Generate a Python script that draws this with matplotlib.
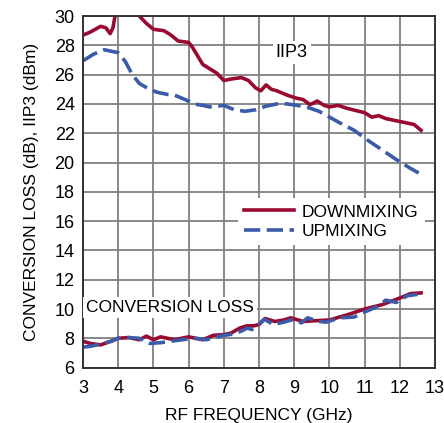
import matplotlib
matplotlib.use("Agg")
import matplotlib.pyplot as plt

# IIP3 curves (dBm)
iip3_down_f = [3.0, 3.2, 3.5, 3.65, 3.77, 3.85, 3.93, 4.0, 4.6, 4.8, 5.0, 5.3, 5.5, 5.7, 6.0, 6.1,
               6.4, 6.6, 6.8, 7.0, 7.2, 7.5, 7.7, 7.9, 8.05, 8.2, 8.35, 8.5, 8.8, 9.05, 9.25,
               9.45, 9.65, 9.85, 10.0, 10.25, 10.5, 10.75, 11.0, 11.2, 11.4, 11.6, 11.8, 12.0,
               12.2, 12.4, 12.6]
iip3_down = [28.7, 28.9, 29.3, 29.2, 28.8, 29.2, 30.3, 31.5, 30.0, 29.5, 29.1, 29.0, 28.7, 28.3, 28.2, 27.9,
             26.7, 26.4, 26.1, 25.6, 25.7, 25.8, 25.6, 25.1, 24.9, 25.3, 25.0, 24.9, 24.6, 24.4, 24.3,
             23.95, 24.2, 23.9, 23.8, 23.9, 23.7, 23.55, 23.4, 23.1, 23.2, 23.0, 22.9, 22.8,
             22.7, 22.6, 22.2]

iip3_up_f = [3.0, 3.3, 3.6, 3.8, 4.0, 4.2, 4.4, 4.6, 4.85, 5.1, 5.4, 5.6, 5.9, 6.15, 6.4, 6.6,
             6.8, 7.0, 7.3, 7.6, 7.9, 8.2, 8.5, 8.8, 9.1, 9.4, 9.7, 10.0, 10.3, 10.7, 11.1,
             11.5, 11.9, 12.3, 12.6]
iip3_up = [26.95, 27.4, 27.7, 27.6, 27.5, 26.9, 26.0, 25.4, 25.05, 24.8, 24.65, 24.6, 24.3, 24.0, 23.9, 23.8,
           23.85, 23.9, 23.6, 23.5, 23.6, 23.85, 24.0, 24.0, 23.9, 23.75, 23.5, 23.1, 22.7, 22.2, 21.5,
           20.85, 20.2, 19.6, 19.2]

# Conversion loss curves (dB)
cl_down_f = [3.0, 3.2, 3.5, 3.8, 4.0, 4.3, 4.6, 4.8, 5.0, 5.2, 5.4, 5.6, 5.8, 6.0, 6.2, 6.4,
             6.7, 7.0, 7.2, 7.45, 7.65, 7.85, 8.0, 8.17, 8.45, 8.7, 8.9, 9.25, 9.6, 10.0,
             10.5, 11.0, 11.5, 12.0, 12.3, 12.6]
cl_down = [7.8, 7.65, 7.55, 7.8, 8.0, 8.05, 7.9, 8.15, 7.9, 8.1, 8.0, 7.9, 8.0, 8.1, 8.0, 7.9,
           8.2, 8.25, 8.35, 8.7, 8.85, 8.85, 8.95, 9.35, 9.15, 9.25, 9.4, 9.15, 9.2, 9.25,
           9.6, 10.0, 10.3, 10.75, 11.05, 11.1]

cl_up_f = [3.0, 3.2, 3.5, 3.8, 4.0, 4.3, 4.6, 4.9, 5.2, 5.5, 5.8, 6.2, 6.5, 6.8, 7.0, 7.3,
           7.5, 7.66, 7.8, 7.95, 8.15, 8.4, 8.7, 9.0, 9.2, 9.38, 9.7, 9.9, 10.3, 10.7,
           11.0, 11.3, 11.6, 11.9, 12.2, 12.5]
cl_up = [7.4, 7.45, 7.6, 7.8, 8.0, 8.05, 8.0, 7.65, 7.7, 7.8, 7.9, 8.0, 7.9, 8.1, 8.2, 8.3,
         8.5, 8.7, 8.6, 8.85, 9.3, 8.95, 9.1, 9.3, 9.05, 9.4, 9.15, 9.1, 9.4, 9.45,
         9.8, 10.1, 10.6, 10.45, 10.9, 11.0]

x_ticks = list(range(3, 14))
y_ticks = list(range(6, 31, 2))

RED = "#9a0a30"
BLUE = "#3b5ba9"
plt.rcParams["font.family"] = ["Liberation Sans", "DejaVu Sans"]

fig = plt.figure(figsize=(4.44, 4.23), dpi=100)
ax = fig.add_axes([0.187, 0.131, 0.793, 0.831])

ax.plot(iip3_down_f, iip3_down, color=RED, lw=2.6, label="DOWNMIXING")
ax.plot(cl_down_f, cl_down, color=RED, lw=2.6)
ax.plot(iip3_up_f, iip3_up, color=BLUE, lw=2.6, dashes=(4.5, 1.8), label="UPMIXING")
ax.plot(cl_up_f, cl_up, color=BLUE, lw=2.6, dashes=(4.5, 1.8))

ax.set_xlim(3, 13)
ax.set_ylim(6, 30)
ax.set_xticks(x_ticks)
ax.set_yticks(y_ticks)
ax.tick_params(length=0, labelsize=13)
ax.tick_params(axis="x", pad=9)
ax.tick_params(axis="y", pad=6)
ax.grid(True, color="#808080", lw=1.3)
ax.set_axisbelow(True)
for s in ax.spines.values():
    s.set_color("#333333")
    s.set_linewidth(1.4)

ax.set_xlabel("RF FREQUENCY (GHz)", fontsize=12.5, labelpad=8)
ax.set_ylabel("CONVERSION LOSS (dB), IIP3 (dBm)", fontsize=12.5, labelpad=11)

box = dict(facecolor="white", edgecolor="none", pad=2)
ax.text(8.93, 27.5, "IIP3", fontsize=13, ha="center", va="center", bbox=box)
ax.text(5.47, 10.1, "CONVERSION LOSS", fontsize=12.5, ha="center", va="center", bbox=box)

leg = ax.legend(loc="center", bbox_to_anchor=(0.705, 0.415), fontsize=12.5, frameon=True,
                framealpha=1, edgecolor="none", fancybox=False, handlelength=2.9,
                handletextpad=0.45, labelspacing=0.25, borderpad=0.35)

fig.savefig("out.png", dpi=100)
